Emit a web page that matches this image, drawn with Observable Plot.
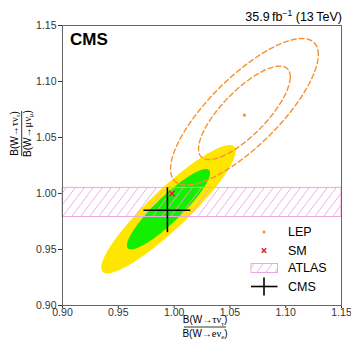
<!DOCTYPE html>
<html><head><meta charset="utf-8">
<script src="https://cdn.jsdelivr.net/npm/d3@7"></script>
<script src="https://cdn.jsdelivr.net/npm/@observablehq/plot@0.6"></script>
<style>
body{margin:0;background:#fff;}
#chart{width:351px;height:345px;overflow:hidden;}
</style>
</head><body><div id="chart"></div>
<script>
// ---- data ----
const xTicks = [0.90, 0.95, 1.00, 1.05, 1.10, 1.15];
const yTicks = [0.90, 0.95, 1.00, 1.05, 1.10, 1.15];

// points: LEP average, SM expectation, CMS measurement
const pointNames = ["LEP", "SM", "CMS"];
const pointX = [1.063, 0.998, 0.994];
const pointY = [1.070, 1.000, 0.985];
const cmsErrX = 0.021;
const cmsErrY = 0.020;

// ATLAS band on B(tau)/B(mu)
const atlasLow = 0.979;
const atlasHigh = 1.005;

// confidence contours (centre, half-extent in x and y, correlation)
const contourNames = ["CMS 95%", "CMS 68%", "LEP 95%", "LEP 68%"];
const contourCx = [0.995, 0.995, 1.063, 1.063];
const contourCy = [0.986, 0.986, 1.073, 1.072];
const contourHx = [0.0603, 0.0373, 0.0662, 0.0411];
const contourHy = [0.0573, 0.0359, 0.0654, 0.0417];
const contourRho = [0.91, 0.90, 0.78, 0.77];

// ---- build tables ----
function contourPts(i) {
  const n = 160, pts = [];
  const r = contourRho[i], s = Math.sqrt(1 - r * r);
  for (let k = 0; k <= n; k++) {
    const t = 2 * Math.PI * k / n;
    pts.push({c: contourNames[i],
      x: contourCx[i] + contourHx[i] * Math.cos(t),
      y: contourCy[i] + contourHy[i] * (r * Math.cos(t) + s * Math.sin(t))});
  }
  return pts;
}
const yellow = "#ffe600", green = "#14ee00", orange = "#f7902e", red = "#e0202a", pink = "#eea6e2";
const cms = {x: pointX[2], y: pointY[2]};

const fmt = d3.format(".2f");
const chart = Plot.plot({
  width: 351, height: 345,
  marginLeft: 62, marginRight: 10, marginTop: 25, marginBottom: 40,
  style: {fontFamily: "'Liberation Sans', Arial, sans-serif", fontSize: "10.5px", color: "#333", background: "white", overflow: "visible"},
  x: {domain: [0.90, 1.15], ticks: xTicks, tickFormat: fmt, tickSize: 3, label: null, tickPadding: 0.5},
  y: {domain: [0.90, 1.15], ticks: yTicks, tickFormat: fmt, tickSize: 4, label: null, tickPadding: 2},
  marks: [
    Plot.line(contourPts(0), {x: "x", y: "y", fill: yellow, stroke: "none"}),
    Plot.line(contourPts(1), {x: "x", y: "y", fill: green, stroke: "none"}),
    Plot.rect([{y1: atlasLow, y2: atlasHigh}], {x1: 0.90, x2: 1.15, y1: "y1", y2: "y2", fill: "url(#hatch)", stroke: pink, strokeWidth: 1}),
    Plot.line(contourPts(2), {x: "x", y: "y", stroke: orange, strokeWidth: 1.4, strokeDasharray: "5,3"}),
    Plot.line(contourPts(3), {x: "x", y: "y", stroke: orange, strokeWidth: 1.4, strokeDasharray: "5,3"}),
    Plot.ruleY([cms], {y: "y", x1: d => d.x - cmsErrX, x2: d => d.x + cmsErrX, stroke: "black", strokeWidth: 1.6}),
    Plot.ruleX([cms], {x: "x", y1: d => d.y - cmsErrY, y2: d => d.y + cmsErrY, stroke: "black", strokeWidth: 1.6}),
    Plot.dot([{x: pointX[1], y: pointY[1]}], {x: "x", y: "y", symbol: "times", r: 2.6, stroke: red, strokeWidth: 1.5}),
    Plot.dot([{x: pointX[0], y: pointY[0]}], {x: "x", y: "y", r: 1.6, fill: orange, stroke: "none"}),
    Plot.frame({stroke: "#666", strokeWidth: 1})
  ]
});
document.getElementById("chart").appendChild(chart);

const svg = d3.select(chart);
// hatch pattern
const defs = svg.insert("defs", ":first-child");
const pat = defs.append("pattern").attr("id", "hatch").attr("patternUnits", "userSpaceOnUse")
  .attr("width", 9).attr("height", 12);
pat.append("line").attr("x1", 0).attr("y1", 12).attr("x2", 9).attr("y2", 0)
  .attr("stroke", pink).attr("stroke-width", 0.9);
const pat2 = defs.append("pattern").attr("id", "hatchLeg").attr("patternUnits", "userSpaceOnUse")
  .attr("width", 9).attr("height", 12).attr("x", 2);
pat2.append("line").attr("x1", 0).attr("y1", 12).attr("x2", 9).attr("y2", 0)
  .attr("stroke", pink).attr("stroke-width", 0.9);

const font = "'Liberation Sans', Arial, sans-serif";
const serif = "'Liberation Serif', 'DejaVu Serif', serif";
// CMS label
svg.append("text").attr("x", 70).attr("y", 44.5).attr("text-anchor", "start").attr("font-family", font)
  .attr("font-weight", "bold").attr("font-size", 17).attr("fill", "#000").text("CMS");
// lumi label
const lumi = svg.append("text").attr("x", 342).attr("y", 21).attr("text-anchor", "end")
  .attr("font-family", font).attr("font-size", 12.5).attr("fill", "#000");
lumi.append("tspan").text("35.9\u2009fb");
lumi.append("tspan").attr("font-size", 8.5).attr("dy", -5).text("\u22121");
lumi.append("tspan").attr("dy", 5).text(" (13\u2009TeV)");

// fraction label helper: parts are [text, kind] where kind: 0 sans, 1 serif greek, 2 subscript
function frac(g, num, den, w) {
  const fs = 10;
  function part(y, arr) {
    const t = g.append("text").attr("x", 0).attr("y", y).attr("text-anchor", "middle")
      .attr("font-family", font).attr("font-size", fs).attr("fill", "#000");
    let shifted = false;
    arr.forEach(([s, kind]) => {
      const ts = t.append("tspan").text(s);
      if (kind === 2) {
        ts.attr("font-size", 6.8).attr("dy", 2.2).attr("font-family", serif);
        shifted = true;
      } else {
        if (shifted) { ts.attr("dy", -2.2); shifted = false; }
        if (kind === 1) ts.attr("font-family", serif).attr("font-size", 10.5);
      }
    });
  }
  part(-3.6, num);
  g.append("line").attr("x1", -w / 2).attr("x2", w / 2).attr("y1", 0).attr("y2", 0)
    .attr("stroke", "#000").attr("stroke-width", 0.8);
  part(9.6, den);
}
const gx = svg.append("g").attr("transform", "translate(205,327)");
frac(gx, [["B(W\u2192", 0], ["\u03c4\u03bd", 1], ["\u03c4", 2], [")", 0]],
         [["B(W\u2192", 0], ["e\u03bd", 1], ["e", 2], [")", 0]], 42);
const gy = svg.append("g").attr("transform", "translate(21.7,133.5) rotate(-90)");
frac(gy, [["B(W\u2192", 0], ["\u03c4\u03bd", 1], ["\u03c4", 2], [")", 0]],
         [["B(W\u2192", 0], ["\u03bc\u03bd", 1], ["\u03bc", 2], [")", 0]], 45);

// legend
const lg = svg.append("g");
const lx = 264;
const rows = [232, 250.5, 268, 286.5];
const labels = ["LEP", "SM", "ATLAS", "CMS"];
lg.append("circle").attr("cx", lx).attr("cy", rows[0]).attr("r", 1.6).attr("fill", orange);
lg.append("path").attr("d", `M${lx-2.2},${rows[1]-2.2}L${lx+2.2},${rows[1]+2.2}M${lx-2.2},${rows[1]+2.2}L${lx+2.2},${rows[1]-2.2}`)
  .attr("stroke", red).attr("stroke-width", 1.5);
lg.append("rect").attr("x", 251).attr("y", rows[2] - 4.5).attr("width", 26.5).attr("height", 9)
  .attr("fill", "url(#hatchLeg)").attr("stroke", pink).attr("stroke-width", 1);
lg.append("line").attr("x1", 251).attr("x2", 277.5).attr("y1", rows[3]).attr("y2", rows[3]).attr("stroke", "#000").attr("stroke-width", 1.6);
lg.append("line").attr("x1", lx).attr("x2", lx).attr("y1", rows[3] - 9).attr("y2", rows[3] + 9).attr("stroke", "#000").attr("stroke-width", 1.6);
labels.forEach((t, i) => {
  lg.append("text").attr("x", 288).attr("y", rows[i] + 4.3).attr("text-anchor", "start").attr("font-family", font)
    .attr("font-size", 12.5).attr("fill", "#000").text(t);
});
</script>
</body></html>
